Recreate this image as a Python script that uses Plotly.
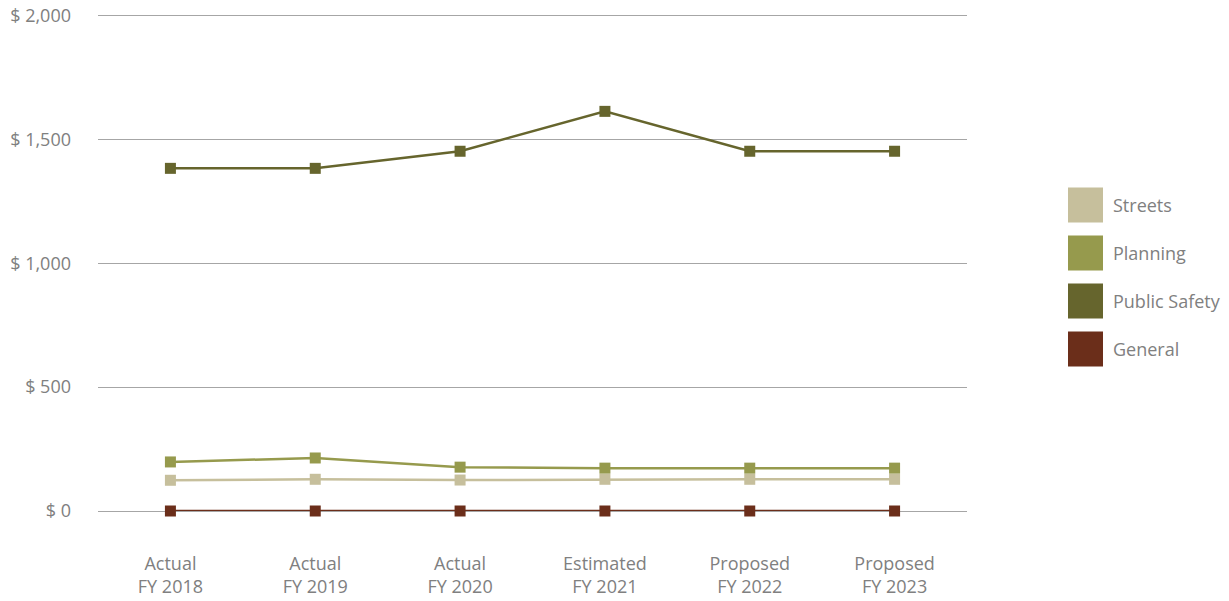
import plotly.graph_objects as go

categories = ["Actual<br>FY 2018", "Actual<br>FY 2019", "Actual<br>FY 2020",
              "Estimated<br>FY 2021", "Proposed<br>FY 2022", "Proposed<br>FY 2023"]
streets = [124, 128, 125, 128, 128, 128]
planning = [198, 214, 177, 173, 173, 173]
public_safety = [1383, 1383, 1452, 1613, 1452, 1452]
general = [0, 0, 0, 0, 0, 0]

series_names = ["Streets", "Planning", "Public Safety", "General"]
series_values = [streets, planning, public_safety, general]
colors = ["#C6BF9C", "#969A4D", "#66652D", "#6B2E1A"]
tick_vals = [0, 500, 1000, 1500, 2000]
tick_text = ["$ 0", "$ 500", "$ 1,000", "$ 1,500", "$ 2,000"]

fig = go.Figure()
for name, vals, col in zip(series_names, series_values, colors):
    fig.add_trace(go.Scatter(
        x=categories, y=vals, name=name, mode="lines+markers",
        line=dict(color=col, width=2.5),
        marker=dict(symbol="square", size=11, color=col),
        cliponaxis=False, showlegend=False,
    ))

PLOT_H = 498  # px for range 0..2010
fig.update_layout(
    width=1229, height=601,
    margin=dict(l=98, r=262, t=13, b=90),
    paper_bgcolor="white", plot_bgcolor="white",
    font=dict(family="Open Sans", size=18, color="#808080"),
    showlegend=False,
)
fig.update_xaxes(
    type="category", range=[-0.5, 5.5], showgrid=False, showline=False,
    ticks="", ticklabelstandoff=40, automargin=False,
    tickfont=dict(size=18, color="#808080"),
)
fig.update_yaxes(
    range=[0, 2010], tickvals=tick_vals, ticktext=tick_text,
    showgrid=True, gridcolor="#A6A6A6", gridwidth=1,
    zeroline=True, zerolinecolor="#A6A6A6", zerolinewidth=1,
    showline=False, ticks="", ticklabelstandoff=26, automargin=False,
    ticklabeloverflow="allow",
    tickfont=dict(size=18, color="#808080"),
)

legend_y = [205, 253, 301, 349]
x0px, bottom_px = 98, 511
for name, col, yc in zip(series_names, colors, legend_y):
    fig.add_shape(type="rect", xref="paper", yref="paper",
                  x0=(1068 - x0px) / 869, x1=(1103 - x0px) / 869,
                  y0=(bottom_px - (yc + 17.5)) / PLOT_H, y1=(bottom_px - (yc - 17.5)) / PLOT_H,
                  fillcolor=col, line=dict(width=0))
    fig.add_annotation(xref="paper", yref="paper",
                       x=(1111 - x0px) / 869, y=(bottom_px - yc) / PLOT_H,
                       text=name, showarrow=False, xanchor="left", yanchor="middle",
                       font=dict(size=18, color="#808080"))

fig.write_html("out.html", config={"displayModeBar": False},
               post_script="document.body.style.margin='0';")
